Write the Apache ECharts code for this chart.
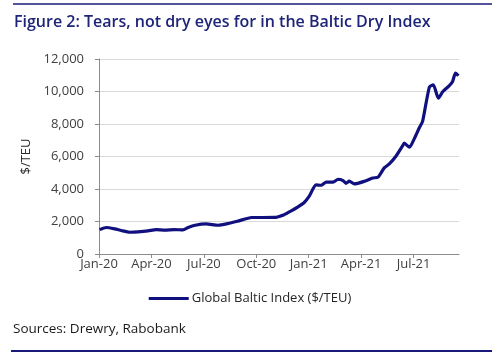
<!DOCTYPE html>
<html>
<head>
<meta charset="utf-8">
<script src="https://cdn.jsdelivr.net/npm/echarts@6/dist/echarts.min.js"></script>
<style>
html,body{margin:0;padding:0;background:#fff;}
#chart{width:500px;height:355px;}
</style>
</head>
<body>
<div id="chart"></div>
<script>
var titleText = 'Figure 2: Tears, not dry eyes for in the Baltic Dry Index';
var sourceText = 'Sources: Drewry, Rabobank';
var seriesName = 'Global Baltic Index ($/TEU)';
var yAxisName = '$/TEU';
var xTickLabels = ['Jan-20', 'Apr-20', 'Jul-20', 'Oct-20', 'Jan-21', 'Apr-21', 'Jul-21'];

var dates = [
  '2020-01-02','2020-01-14','2020-01-29','2020-02-09','2020-02-23','2020-03-08','2020-03-26',
  '2020-04-09','2020-04-24','2020-05-11','2020-05-26','2020-06-04','2020-06-16','2020-07-05',
  '2020-07-26','2020-08-13','2020-08-30','2020-09-23','2020-10-13','2020-11-02','2020-11-19',
  '2020-12-01','2020-12-13','2020-12-24','2021-01-02','2021-01-14','2021-01-23','2021-02-01',
  '2021-02-12','2021-02-20','2021-02-28','2021-03-05','2021-03-11','2021-03-20','2021-04-07',
  '2021-04-21','2021-04-30','2021-05-11','2021-05-20','2021-06-01','2021-06-12','2021-06-15',
  '2021-06-24','2021-07-02','2021-07-11','2021-07-17','2021-07-29','2021-08-05','2021-08-14',
  '2021-08-22','2021-09-02','2021-09-08','2021-09-13','2021-09-18'
];
var values = [
  1500, 1630, 1545, 1445, 1340, 1360, 1420,
  1505, 1465, 1505, 1480, 1630, 1770, 1850,
  1770, 1875, 2020, 2245, 2245, 2250, 2420,
  2650, 2900, 3170, 3560, 4250, 4230, 4420,
  4420, 4600, 4520, 4350, 4480, 4310, 4480,
  4680, 4730, 5300, 5540, 6030, 6650, 6820,
  6570, 7070, 7750, 8160, 10270, 10410, 9590,
  10000, 10350, 10620, 11140, 10970
];

function monthPos(s) {
  var p = s.split('-').map(Number);
  var dim = new Date(p[0], p[1], 0).getDate();
  return (p[0] - 2020) * 12 + (p[1] - 1) + (p[2] - 1) / dim;
}
var seriesData = dates.map(function (d, i) { return [monthPos(d), values[i]]; });
var tickPositions = xTickLabels.map(function (_, i) { return i * 3; });

var navy = '#10107f';
var chart = echarts.init(document.getElementById('chart'), null, {renderer: 'canvas'});
chart.setOption({
  animation: false,
  backgroundColor: '#fff',
  textStyle: {fontFamily: 'Open Sans'},
  title: {
    text: titleText,
    left: 9, top: 9,
    textStyle: {color: '#1e2478', fontSize: 16, fontWeight: 600, fontFamily: 'Open Sans'}
  },
  graphic: [
    {type: 'line', shape: {x1: 13, y1: 4, x2: 492, y2: 4}, style: {stroke: '#1a1a7a', lineWidth: 1.5}},
    {type: 'line', shape: {x1: 11, y1: 351, x2: 492, y2: 351}, style: {stroke: '#1a1a7a', lineWidth: 2}},
    {type: 'text', left: 13, top: 322, style: {text: sourceText, fill: '#1a1a1a', font: '13.5px "Open Sans"'}}
  ],
  grid: {left: 99, right: 41, top: 59, bottom: 101, containLabel: false},
  legend: {
    data: [{name: seriesName, icon: 'rect'}],
    top: 287, left: 'center',
    itemWidth: 40, itemHeight: 3, itemGap: 3,
    textStyle: {color: '#262626', fontSize: 13, fontFamily: 'Open Sans', padding: [0, 0, 0, -2]}
  },
  xAxis: {
    type: 'value', min: 0, max: 20.6, interval: 3,
    splitLine: {show: false},
    axisLine: {show: true, lineStyle: {color: '#8c8c8c', width: 1}},
    axisTick: {show: true, length: 4, inside: false, lineStyle: {color: '#8c8c8c'}, customValues: tickPositions},
    axisLabel: {
      customValues: tickPositions,
      margin: 4, color: '#404040', fontSize: 13, fontFamily: 'Open Sans',
      formatter: function (v) { var i = Math.round(v / 3); return Math.abs(v - i * 3) < 1e-6 ? (xTickLabels[i] || '') : ''; }
    }
  },
  yAxis: {
    type: 'value', min: 0, max: 12000, interval: 2000,
    name: yAxisName, nameLocation: 'middle', nameGap: 64, nameRotate: 90,
    nameTextStyle: {color: '#262626', fontSize: 13, fontFamily: 'Open Sans'},
    splitLine: {show: true, lineStyle: {color: '#d9d9d9', width: 1}},
    axisLine: {show: true, lineStyle: {color: '#8c8c8c', width: 1}},
    axisTick: {show: true, length: 4, lineStyle: {color: '#8c8c8c'}},
    axisLabel: {
      margin: 15, color: '#404040', fontSize: 13, fontFamily: 'Open Sans',
      formatter: function (v) { return v.toLocaleString('en-US'); }
    }
  },
  series: [{
    name: seriesName, type: 'line', data: seriesData,
    showSymbol: false, symbol: 'none', smooth: 0.2,
    lineStyle: {color: navy, width: 3.2},
    itemStyle: {color: navy}
  }]
});
</script>
</body>
</html>
